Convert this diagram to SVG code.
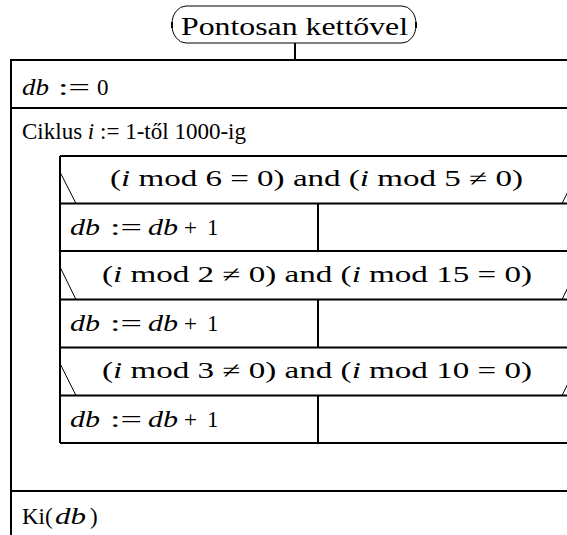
<svg xmlns="http://www.w3.org/2000/svg" width="567" height="535" viewBox="0 0 567 535">
<style>
.t{font-family:"Liberation Serif","DejaVu Serif",serif;font-size:23px;fill:#000}
.ti{font-family:"Liberation Serif","DejaVu Serif",serif;font-size:26px;fill:#000}
.i{font-style:italic}
.b{stroke:#000;stroke-width:2;fill:none}
.d{stroke:#000;stroke-width:1;fill:none}
</style>
<rect width="567" height="535" fill="#fff"/>
<g id="title">
<rect x="172" y="6" width="244" height="37" rx="14" ry="18" class="d"/>
<line x1="172" y1="22" x2="172" y2="28" class="b"/>
<line x1="416" y1="22" x2="416" y2="28" class="b"/>
<text class="ti" x="181" y="35" textLength="227" lengthAdjust="spacingAndGlyphs">Pontosan kettővel</text>
</g>
<g id="connectors">
<line x1="295" y1="43" x2="295" y2="60" class="b"/>
</g>
<g id="outer">
<line x1="10" y1="60" x2="567" y2="60" class="b"/>
<line x1="11" y1="60" x2="11" y2="535" class="b"/>
<line x1="11" y1="108" x2="567" y2="108" class="b"/>
<line x1="11" y1="491" x2="567" y2="491" class="b"/>
</g>
<g id="init">
<text class="t" y="95"><tspan class="i" x="22" textLength="27" lengthAdjust="spacingAndGlyphs">db</tspan><tspan x="58" textLength="32" lengthAdjust="spacingAndGlyphs">:=</tspan><tspan x="97">0</tspan></text>
</g>
<g id="loop">
<text class="t" x="22" y="139" textLength="224" lengthAdjust="spacingAndGlyphs">Ciklus <tspan class="i">i</tspan> := 1-től 1000-ig</text>
<line x1="60" y1="156" x2="60" y2="443" class="b"/>
<line x1="60" y1="443" x2="567" y2="443" class="b"/>
</g>
<g id="cond1">
<line x1="60" y1="156" x2="567" y2="156" class="b"/>
<line x1="60" y1="172" x2="76" y2="203.5" class="d"/>
<line x1="562" y1="203.5" x2="578" y2="172" class="d"/>
<text class="t" x="110" y="186" textLength="413" lengthAdjust="spacingAndGlyphs">(<tspan class="i">i</tspan> mod 6 = 0) and (<tspan class="i">i</tspan> mod 5 ≠ 0)</text>
</g>
<g id="inc1">
<line x1="60" y1="203.5" x2="567" y2="203.5" class="b"/>
<line x1="318" y1="203.5" x2="318" y2="251" class="b"/>
<text class="t" y="235"><tspan class="i" x="70" textLength="30" lengthAdjust="spacingAndGlyphs">db</tspan><tspan x="110" textLength="32" lengthAdjust="spacingAndGlyphs">:=</tspan><tspan class="i" x="148" textLength="30" lengthAdjust="spacingAndGlyphs">db</tspan><tspan x="184">+</tspan><tspan x="207">1</tspan></text>
</g>
<g id="cond2">
<line x1="60" y1="251" x2="567" y2="251" class="b"/>
<line x1="60" y1="267" x2="76" y2="299.5" class="d"/>
<line x1="562" y1="299.5" x2="578" y2="267" class="d"/>
<text class="t" x="102" y="282" textLength="430" lengthAdjust="spacingAndGlyphs">(<tspan class="i">i</tspan> mod 2 ≠ 0) and (<tspan class="i">i</tspan> mod 15 = 0)</text>
</g>
<g id="inc2">
<line x1="60" y1="299.5" x2="567" y2="299.5" class="b"/>
<line x1="318" y1="299.5" x2="318" y2="347.5" class="b"/>
<text class="t" y="331"><tspan class="i" x="70" textLength="30" lengthAdjust="spacingAndGlyphs">db</tspan><tspan x="110" textLength="32" lengthAdjust="spacingAndGlyphs">:=</tspan><tspan class="i" x="148" textLength="30" lengthAdjust="spacingAndGlyphs">db</tspan><tspan x="184">+</tspan><tspan x="207">1</tspan></text>
</g>
<g id="cond3">
<line x1="60" y1="347.5" x2="567" y2="347.5" class="b"/>
<line x1="60" y1="363.5" x2="76" y2="395.5" class="d"/>
<line x1="562" y1="395.5" x2="578" y2="363.5" class="d"/>
<text class="t" x="102" y="378" textLength="430" lengthAdjust="spacingAndGlyphs">(<tspan class="i">i</tspan> mod 3 ≠ 0) and (<tspan class="i">i</tspan> mod 10 = 0)</text>
</g>
<g id="inc3">
<line x1="60" y1="395.5" x2="567" y2="395.5" class="b"/>
<line x1="318" y1="395.5" x2="318" y2="443" class="b"/>
<text class="t" y="427"><tspan class="i" x="70" textLength="30" lengthAdjust="spacingAndGlyphs">db</tspan><tspan x="110" textLength="32" lengthAdjust="spacingAndGlyphs">:=</tspan><tspan class="i" x="148" textLength="30" lengthAdjust="spacingAndGlyphs">db</tspan><tspan x="184">+</tspan><tspan x="207">1</tspan></text>
</g>
<g id="output">
<text class="t" y="524"><tspan x="22">Ki</tspan><tspan x="45">(</tspan><tspan class="i" x="55" textLength="31" lengthAdjust="spacingAndGlyphs">db</tspan><tspan x="90">)</tspan></text>
</g>
</svg>
